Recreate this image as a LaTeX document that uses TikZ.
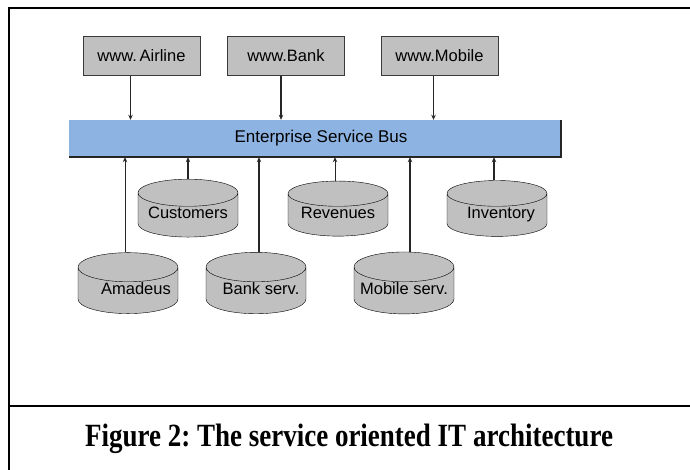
\documentclass[tikz,border=0pt]{standalone}
\usepackage{fontspec}
\setmainfont{Liberation Sans}
\newfontfamily\capfont{Liberation Serif}
\usetikzlibrary{arrows.meta,shapes.geometric}
\definecolor{webgray}{HTML}{C0C0C0}
\definecolor{busblue}{HTML}{8DB3E2}
\definecolor{edgegray}{HTML}{3A3A3A}

\begin{document}
\begin{tikzpicture}[x=1pt, y=-1pt,
    site/.style={rectangle, draw=edgegray, fill=webgray, minimum width=117pt,
                 minimum height=39pt, inner sep=0pt, font=\fontsize{16.5}{18}\selectfont},
    store/.style={cylinder, shape border rotate=90, aspect=0.34, draw=black, fill=webgray,
                  minimum width=100pt, minimum height=49pt, inner sep=0pt,
                  text height=12pt, text depth=5pt, font=\fontsize{16.5}{18}\selectfont},
    link/.style={-{Stealth[length=5pt,width=4.5pt]}, draw=black!85, line width=1pt},
    >=Stealth
]
\useasboundingbox (0,0) rectangle (690,470);

% frame and caption
\draw[line width=2.5pt] (9,470) -- (9,8) -- (690,8);
\draw[line width=2.5pt] (9,406) -- (690,406);
\node[font=\capfont\bfseries\fontsize{27}{30}\selectfont, anchor=base] (caption) at (349,446)
    {\frenchspacing\scalebox{1}[1.2]{Figure 2: The service oriented IT architecture}};

% web front ends
\node[site] (airline) at (141.5,56) {www.\,Airline};
\node[site] (bank)    at (286,56)   {www.Bank};
\node[site] (mobile)  at (439.5,56) {www.Mobile};

% the bus
\node[rectangle, fill=busblue, minimum width=492pt, minimum height=37pt, inner sep=0pt,
      font=\fontsize{17}{19}\selectfont] (esb) at (315,138.5) {\hspace*{12pt}Enterprise Service Bus};
\draw[line width=2pt, black!85] (esb.south west) -- (esb.south east) -- (esb.north east);

% data stores
\node[store] (customers) at (188,215) {Customers};
\node[store] (revenues)  at (338,215) {Revenues};
\node[store] (inventory) at (497,215) {\hspace*{8pt}Inventory};
\node[store] (amadeus)   at (128,290.5) {\hspace*{16pt}Amadeus};
\node[store] (bankserv)  at (256,290.5) {\hspace*{10pt}Bank serv.};
\node[store] (mobileserv) at (404,290.5) {Mobile serv.};

% front ends to bus
\draw[link] ([xshift=-11pt]airline.south) -- ([xshift=-11pt]airline.south |- esb.north);
\draw[link, line width=1.6pt] ([xshift=-5pt]bank.south) -- ([xshift=-5pt]bank.south |- esb.north);
\draw[link] ([xshift=-6pt]mobile.south) -- ([xshift=-6pt]mobile.south |- esb.north);

% stores to bus
\draw[link] ([xshift=-3pt]amadeus.north) -- ([xshift=-3pt]amadeus.north |- esb.south);
\draw[link, line width=1.5pt] (customers.north) -- (customers.north |- esb.south);
\draw[link, line width=1.5pt] ([xshift=3pt]bankserv.north) -- ([xshift=3pt]bankserv.north |- esb.south);
\draw[link] ([xshift=-3pt]revenues.north) -- ([xshift=-3pt]revenues.north |- esb.south);
\draw[link, line width=1.5pt] ([xshift=6pt]mobileserv.north) -- ([xshift=6pt]mobileserv.north |- esb.south);
\draw[link, line width=1.5pt] ([xshift=-3pt]inventory.north) -- ([xshift=-3pt]inventory.north |- esb.south);
\end{tikzpicture}
\end{document}
